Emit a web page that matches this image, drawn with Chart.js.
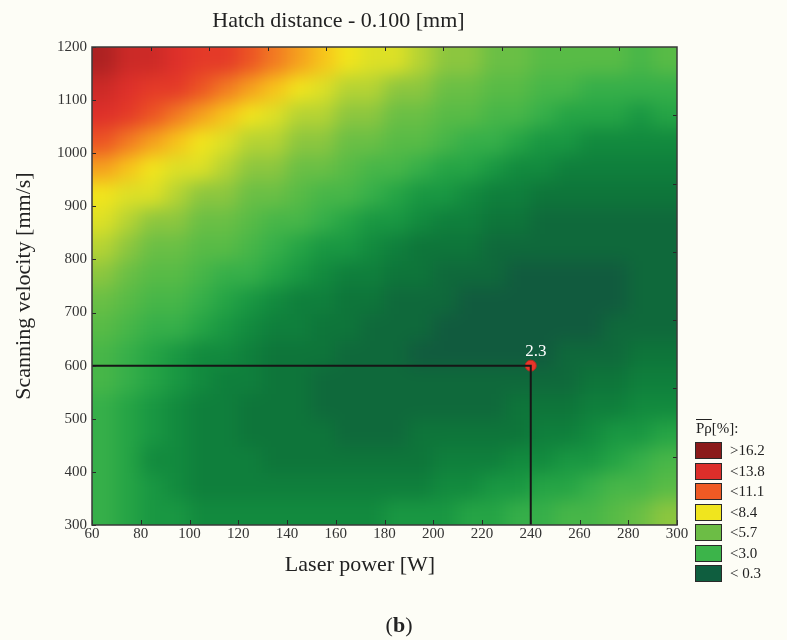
<!DOCTYPE html>
<html>
<head>
<meta charset="utf-8">
<script src="https://cdn.jsdelivr.net/npm/chart.js@4.4.1/dist/chart.umd.min.js"></script>
<style>
  html, body { margin: 0; padding: 0; background: #fdfdf6; }
  #wrap { position: relative; width: 787px; height: 640px; background: #fdfdf6; font-family: 'Liberation Serif', serif; color: #222; overflow: hidden; }
  #c { position: absolute; left: 0; top: 0; }
  .abs { position: absolute; white-space: nowrap; }
  .box { position: absolute; width: 25px; height: 15px; border: 1px solid #2a2a2a; }
  .lab { position: absolute; font-size: 15px; line-height: 17px; color: #222; }
</style>
</head>
<body>
<div id="wrap">
  <canvas id="c" width="787" height="640"></canvas>
  <div id="legendTitle" class="abs" style="left:696px; top:419px; font-size:15px; line-height:18px;"><span style="text-decoration: overline;">Pρ</span>[%]:</div>
  <div id="caption" class="abs" style="left:350px; width:98px; text-align:center; top:613px; font-size:22px; line-height:24px;">(<b>b</b>)</div>
</div>
<script>
// ---------- data ----------
const chartTitle = 'Hatch distance - 0.100 [mm]';
const xTitle = 'Laser power [W]';
const yTitle = 'Scanning velocity [mm/s]';

// cell centres of the porosity grid
const powerCenters = [65, 75, 85, 95, 105, 115, 125, 135, 145, 155, 165, 175, 185, 195, 205, 215, 225, 235, 245, 255, 265, 275, 285, 295];
const velocityCenters = [325, 375, 425, 475, 525, 575, 625, 675, 725, 775, 825, 875, 925, 975, 1025, 1075, 1125, 1175];

// estimated porosity [%], one row per velocity (bottom to top), one value per power
const porosity = [
  [2.8, 2.4, 2.1, 1.9, 1.72, 1.65, 1.61, 1.6, 1.6, 1.64, 1.7, 1.79, 1.9, 2.05, 2.2, 2.3, 2.5, 2.7, 3.0, 3.3, 3.6, 4.0, 4.6, 5.4],
  [2.8, 2.3, 1.93, 1.62, 1.49, 1.39, 1.31, 1.26, 1.23, 1.23, 1.26, 1.31, 1.39, 1.49, 1.63, 1.79, 1.97, 2.18, 2.42, 2.69, 2.99, 3.32, 3.7, 4.2],
  [2.8, 2.3, 1.87, 1.53, 1.36, 1.22, 1.11, 1.03, 0.96, 0.93, 0.92, 0.94, 0.98, 1.05, 1.14, 1.27, 1.41, 1.59, 1.79, 2.02, 2.28, 2.56, 2.9, 3.2],
  [2.9, 2.4, 1.9, 1.54, 1.33, 1.16, 1.02, 0.89, 0.79, 0.72, 0.68, 0.66, 0.67, 0.7, 0.76, 0.85, 0.96, 1.09, 1.26, 1.45, 1.67, 1.91, 2.2, 2.5],
  [3.1, 2.6, 2.1, 1.64, 1.4, 1.2, 1.02, 0.86, 0.72, 0.62, 0.54, 0.49, 0.46, 0.46, 0.49, 0.54, 0.61, 0.71, 0.84, 0.99, 1.17, 1.38, 1.55, 1.75],
  [3.4, 2.8, 2.3, 1.9, 1.6, 1.33, 1.11, 0.92, 0.75, 0.61, 0.5, 0.41, 0.35, 0.32, 0.31, 0.32, 0.36, 0.43, 0.52, 0.64, 0.78, 0.95, 1.1, 1.25],
  [3.7, 3.1, 2.6, 2.11, 1.85, 1.57, 1.31, 1.09, 0.88, 0.71, 0.56, 0.44, 0.34, 0.27, 0.23, 0.21, 0.21, 0.25, 0.29, 0.38, 0.49, 0.62, 0.75, 0.9],
  [4.3, 3.5, 3.1, 2.73, 2.35, 2.0, 1.61, 1.35, 1.11, 0.9, 0.71, 0.56, 0.43, 0.32, 0.24, 0.19, 0.16, 0.16, 0.18, 0.23, 0.28, 0.4, 0.52, 0.65],
  [4.85, 4.15, 3.71, 3.3, 2.9, 2.53, 2.16, 1.8, 1.45, 1.2, 0.97, 0.78, 0.61, 0.47, 0.36, 0.27, 0.21, 0.17, 0.16, 0.17, 0.21, 0.27, 0.36, 0.5],
  [5.6, 4.93, 4.44, 3.99, 3.56, 3.15, 2.75, 2.38, 2.03, 1.68, 1.33, 1.1, 0.89, 0.72, 0.57, 0.45, 0.35, 0.28, 0.23, 0.21, 0.21, 0.24, 0.3, 0.4],
  [6.4, 5.8, 5.3, 4.8, 4.3, 3.87, 3.44, 3.03, 2.65, 2.29, 1.96, 1.6, 1.28, 1.07, 0.88, 0.72, 0.59, 0.48, 0.4, 0.34, 0.32, 0.31, 0.38, 0.5],
  [7.15, 6.62, 6.13, 5.66, 5.18, 4.72, 4.22, 3.79, 3.37, 2.98, 2.6, 2.25, 1.92, 1.6, 1.29, 1.1, 0.93, 0.79, 0.67, 0.58, 0.51, 0.47, 0.5, 0.6],
  [8.3, 7.67, 7.06, 6.53, 6.05, 5.6, 5.13, 4.65, 4.17, 3.75, 3.34, 2.95, 2.6, 2.27, 1.96, 1.66, 1.37, 1.19, 1.04, 0.91, 0.81, 0.74, 0.81, 0.91],
  [9.61, 8.87, 8.21, 7.59, 7.0, 6.49, 6.01, 5.55, 5.1, 4.63, 4.17, 3.75, 3.35, 2.99, 2.65, 2.35, 2.06, 1.76, 1.51, 1.35, 1.21, 1.1, 1.19, 1.31],
  [11.21, 10.36, 9.52, 8.8, 8.15, 7.55, 6.96, 6.46, 6.0, 5.55, 5.1, 4.63, 4.19, 3.8, 3.42, 3.09, 2.76, 2.48, 2.2, 1.94, 1.72, 1.67, 1.7, 1.85],
  [12.83, 11.99, 11.14, 10.29, 9.46, 8.77, 8.14, 7.53, 6.95, 6.46, 6.01, 5.56, 5.14, 4.69, 4.26, 3.9, 3.55, 3.22, 2.92, 2.66, 2.42, 2.3, 2.28, 2.45],
  [14.41, 13.57, 12.78, 11.95, 11.09, 10.28, 9.46, 8.77, 8.13, 7.55, 6.97, 6.49, 6.04, 5.62, 5.2, 4.78, 4.38, 4.03, 3.7, 3.4, 3.14, 3.06, 3.04, 3.17],
  [16.3, 15.3, 14.4, 13.5, 12.7, 11.9, 11.1, 10.3, 9.5, 8.8, 8.15, 7.6, 7.0, 6.55, 6.1, 5.7, 5.3, 4.9, 4.55, 4.2, 3.95, 3.8, 3.7, 3.8]
];

// optimum point marked on the chart
const optimumPower = 240;
const optimumVelocity = 600;
const optimumLabel = '2.3';

// axes
const xMin = 60, xMax = 300, xStep = 20;
const yMin = 300, yMax = 1200, yStep = 100;
const topTickValues = [84, 108, 132, 156, 180, 204, 228, 252, 276];
const rightTickValues = [428.6, 557.1, 685.7, 814.3, 942.9, 1071.4];

// colour bands of the contour fill
const bandLimits = [0.3, 0.7, 1.1, 1.5, 1.9, 2.3, 2.7, 3.2, 3.8, 4.6, 5.4, 6.2, 7.0, 7.7, 8.6, 9.4, 10.2, 11.0, 11.8, 12.8, 14.2, 15.4, 16.6];
const bandColors = ['#115b3e', '#0f693b', '#0e753a', '#0f7f3c', '#128a3e', '#199742', '#25a445', '#36af49', '#47b648', '#58bb46', '#6abf45', '#8cc63f', '#b5d334', '#dde026', '#f2e51c', '#f7c41b', '#f5a01e', '#f27a22', '#ec5424', '#e43a28', '#de302a', '#cc2a27', '#ad2222', '#8b1a1a'];

// legend
const legendLabels = ['>16.2', '<13.8', '<11.1', '<8.4', '<5.7', '<3.0', '< 0.3'];
const legendColors = ['#8b1a1a', '#dc2e2a', '#ef5a24', '#f0e51e', '#6cbd45', '#3cb44a', '#0f5e3f'];

// ---------- drawing ----------
function colorFor(v) {
  let i = 0;
  while (i < bandLimits.length && v >= bandLimits[i]) i++;
  return bandColors[i];
}

const halfP = (powerCenters[1] - powerCenters[0]) / 2;
const halfV = (velocityCenters[1] - velocityCenters[0]) / 2;
const SOFT = 9;      // px, softening of the cell edges
const MARGIN = 28;   // px, bleed of the edge cells

const heatmapPlugin = {
  id: 'heatmap',
  beforeDatasetsDraw(chart) {
    const { ctx, chartArea: a, scales: { x, y } } = chart;
    const W = Math.ceil(a.right - a.left) + 2 * MARGIN;
    const H = Math.ceil(a.bottom - a.top) + 2 * MARGIN;
    const off = document.createElement('canvas');
    off.width = W; off.height = H;
    const o = off.getContext('2d');
    const nr = porosity.length;
    porosity.forEach((row, r) => {
      const v = velocityCenters[r];
      let yT = y.getPixelForValue(v + halfV) - a.top + MARGIN;
      let yB = y.getPixelForValue(v - halfV) - a.top + MARGIN;
      if (r === 0) yB += MARGIN;
      if (r === nr - 1) yT -= MARGIN;
      row.forEach((val, c) => {
        const p = powerCenters[c];
        let xL = x.getPixelForValue(p - halfP) - a.left + MARGIN;
        let xR = x.getPixelForValue(p + halfP) - a.left + MARGIN;
        if (c === 0) xL -= MARGIN;
        if (c === row.length - 1) xR += MARGIN;
        o.fillStyle = colorFor(val);
        o.fillRect(Math.floor(xL), Math.floor(yT), Math.ceil(xR) - Math.floor(xL) + 1, Math.ceil(yB) - Math.floor(yT) + 1);
      });
    });
    ctx.save();
    ctx.beginPath();
    ctx.rect(a.left, a.top, a.right - a.left, a.bottom - a.top);
    ctx.clip();
    ctx.filter = 'blur(' + SOFT + 'px)';
    ctx.drawImage(off, a.left - MARGIN, a.top - MARGIN);
    ctx.filter = 'none';
    ctx.restore();
  }
};

const framePlugin = {
  id: 'frame',
  afterDatasetsDraw(chart) {
    const { ctx, chartArea: a, scales: { x, y } } = chart;
    ctx.save();
    ctx.strokeStyle = '#262626';
    ctx.lineWidth = 1;
    ctx.beginPath();
    x.ticks.forEach(t => {
      const px = Math.round(x.getPixelForValue(t.value)) + 0.5;
      ctx.moveTo(px, a.bottom); ctx.lineTo(px, a.bottom - 5);
    });
    y.ticks.forEach(t => {
      const py = Math.round(y.getPixelForValue(t.value)) + 0.5;
      ctx.moveTo(a.left, py); ctx.lineTo(a.left + 4, py);
    });
    topTickValues.forEach(val => {
      const px = Math.round(x.getPixelForValue(val)) + 0.5;
      ctx.moveTo(px, a.top); ctx.lineTo(px, a.top + 4);
    });
    rightTickValues.forEach(val => {
      const py = Math.round(y.getPixelForValue(val)) + 0.5;
      ctx.moveTo(a.right, py); ctx.lineTo(a.right - 4, py);
    });
    ctx.stroke();
    ctx.strokeStyle = '#3a3a3a';
    ctx.lineWidth = 1.5;
    ctx.strokeRect(a.left, a.top, a.right - a.left, a.bottom - a.top);
    ctx.restore();
  },
  afterDraw(chart) {
    const { ctx, scales: { x, y } } = chart;
    ctx.save();
    const px = x.getPixelForValue(optimumPower);
    const py = y.getPixelForValue(optimumVelocity);
    ctx.fillStyle = '#ffffff';
    ctx.font = "17px 'Liberation Serif', serif";
    ctx.textAlign = 'center';
    ctx.textBaseline = 'middle';
    ctx.fillText(optimumLabel, px + 5, py - 14);
    ctx.fillStyle = '#222';
    ctx.font = "22px 'Liberation Serif', serif";
    ctx.fillText(xTitle, 360, 565);
    ctx.restore();
  }
};

Chart.defaults.font.family = "'Liberation Serif', serif";

const guideLine = [
  { x: xMin, y: optimumVelocity },
  { x: optimumPower, y: optimumVelocity },
  { x: optimumPower, y: yMin }
];

new Chart(document.getElementById('c'), {
  type: 'scatter',
  data: {
    datasets: [
      {
        type: 'line',
        data: guideLine,
        borderColor: '#161616',
        borderWidth: 2,
        pointRadius: 0,
        fill: false,
        tension: 0
      },
      {
        type: 'scatter',
        data: [{ x: optimumPower, y: optimumVelocity }],
        pointRadius: 5.5,
        backgroundColor: '#e8352a',
        borderColor: '#b82a20',
        borderWidth: 1
      }
    ]
  },
  options: {
    responsive: false,
    animation: false,
    layout: { padding: { left: 0, right: 110, top: 0, bottom: 50 } },
    plugins: {
      legend: { display: false },
      tooltip: { enabled: false },
      title: {
        display: true,
        text: chartTitle,
        color: '#222',
        font: { size: 22, weight: 'normal' },
        padding: { top: 8, bottom: 12.6 }
      }
    },
    scales: {
      x: {
        type: 'linear', min: xMin, max: xMax,
        grid: { display: false, drawTicks: false },
        border: { display: false },
        ticks: { stepSize: xStep, padding: 0, color: '#333', font: { size: 15 }, maxRotation: 0, autoSkip: false, callback: v => String(v) },
        afterFit(s) { s.height = 65; }
      },
      y: {
        type: 'linear', min: yMin, max: yMax,
        grid: { display: false, drawTicks: false },
        border: { display: false },
        ticks: { stepSize: yStep, padding: 5, color: '#333', font: { size: 15 }, autoSkip: false, callback: v => String(v) },
        title: { display: true, text: yTitle, color: '#222', font: { size: 22 }, padding: { top: 11, bottom: 0 } },
        afterFit(s) { s.width = 92; }
      }
    }
  },
  plugins: [heatmapPlugin, framePlugin]
});

// legend (HTML)
const wrap = document.getElementById('wrap');
legendLabels.forEach((lbl, i) => {
  const top = 442 + i * 20.5;
  const b = document.createElement('div');
  b.className = 'box';
  b.style.left = '695px';
  b.style.top = top + 'px';
  b.style.background = legendColors[i];
  wrap.appendChild(b);
  const t = document.createElement('div');
  t.className = 'lab';
  t.style.left = '730px';
  t.style.top = top + 'px';
  t.textContent = lbl;
  wrap.appendChild(t);
});
</script>
</body>
</html>
